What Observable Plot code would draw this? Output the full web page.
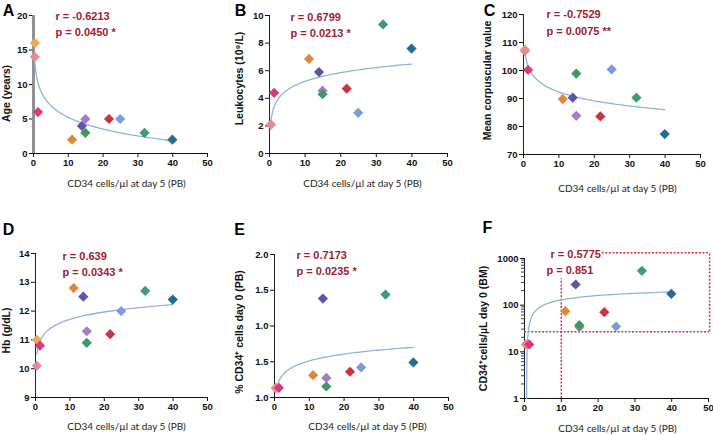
<!DOCTYPE html>
<html><head><meta charset="utf-8">
<script src="https://cdn.jsdelivr.net/npm/d3@7"></script>
<script src="https://cdn.jsdelivr.net/npm/@observablehq/plot@0.6"></script>
<style>
html,body{margin:0;padding:0;background:#fff}
#fig{position:relative;width:713px;height:435px;overflow:hidden;background:#fff}
#fig svg{position:absolute;overflow:visible}
</style></head>
<body><div id="fig"></div>
<script>
// ---- data ----
const cd34Day5 = [0.4, 0.4, 1.3, 11.1, 13.9, 14.9, 14.9, 21.7, 24.9, 31.9, 39.9];
const pointColors = ["#F2A65A", "#E58A96", "#D63C78", "#E0873A", "#5E55A8", "#A47CC8", "#3C9A5F", "#C8353A", "#7A9CDC", "#3E9C74", "#22708F"];
const ageYears = [16, 14, 6, 2, 4, 5, 3, 5, 5, 3, 2];
const leukocytes = [2.1, 2.1, 4.4, 6.85, 5.9, 4.55, 4.3, 4.7, 2.95, 9.35, 7.6];
const meanCorpuscular = [107.5, 107, 100.2, 89.8, 90.3, 83.8, 98.9, 83.6, 100.4, 90.3, 77.3];
const hemoglobin = [11.0, 10.1, 10.8, 12.8, 12.5, 11.3, 10.9, 11.2, 12.0, 12.7, 12.4];
const cd34Day0PB = [1.065, 1.065, 1.068, 1.156, 1.692, 1.137, 1.077, 1.18, 1.21, 1.72, 1.245];
const cd34Day0BM = [14.4, 14.4, 14.4, 74.4, 277, 34, 37.3, 70.8, 34.9, 544, 175];

const xTicks = [0, 10, 20, 30, 40, 50];
const ageTicks = [0, 5, 10, 15, 20];
const leukTicks = [0, 2, 4, 6, 8, 10];
const mcvTicks = [70, 80, 90, 100, 110, 120];
const hbTicks = [9, 10, 11, 12, 13, 14];
const eTickValues = [1, 1.25, 1.5, 1.75, 2];
const eTickLabels = ["1.0", "1.5", "1.0", "1.5", "2.0"];
const fMajorTicks = [1, 10, 100, 1000];
const fMinorTicks = [2, 3, 4, 5, 6, 7, 8, 9, 20, 30, 40, 50, 60, 70, 80, 90, 200, 300, 400, 500, 600, 700, 800, 900];

const panelLetters = ["A", "B", "C", "D", "E", "F"];
const rLabels = ["r = -0.6213", "r = 0.6799", "r = -0.7529", "r = 0.639", "r = 0.7173", "r = 0.5775"];
const pLabels = ["p = 0.0450 *", "p = 0.0213 *", "p = 0.0075 **", "p = 0.0343 *", "p = 0.0235 *", "p = 0.851"];
const yTitles = ["Age (years)", "Leukocytes (10\u2079/L)", "Mean corpuscular value", "Hb (g/dL)", "% CD34\u207A cells day 0 (PB)", "CD34\u207Acells/\u00B5L day 0 (BM)"];
const xTitle = "CD34 cells/\u00B5l at day 5 (PB)";

// threshold box of panel F
const fThresholdX = 10, fThresholdY = 27, fThresholdTop = 366;
const fBoxRight = 50.3, fBoxTop = 1320, fBoxTopStart = 21.1;

// ---- layout / style ----
const statColor = "#A3202E";
const fitColor = "#8DB3E2";
const boxColor = "#D8303C";
const tickFont = "'Liberation Sans', Arial, sans-serif";

function logFit(xs, ys) {
  const L = xs.map(Math.log);
  const lm = d3.mean(L), ym = d3.mean(ys);
  let sxy = 0, sxx = 0;
  L.forEach((l, i) => { sxy += (l - lm) * (ys[i] - ym); sxx += (l - lm) ** 2; });
  const b = sxy / sxx;
  return {a: ym - b * lm, b};
}

const fig = document.getElementById("fig");
const intFmt = d => String(d);

const panels = [
  {values: ageYears, y: {domain: [0, 20], ticks: ageTicks, tickFormat: intFmt}, box: [0, 0, 237, 210], m: [15, 30, 57, 33],
   yAxis: {stroke: "#8a8a8a", width: 2.8}, rPos: [22, 1], pPos: [22, 17], yt: [-27, 9], xt: [6, 30], letter: [-25, -5]},
  {values: leukocytes, y: {domain: [0, 10], ticks: leukTicks, tickFormat: intFmt}, box: [235, 0, 237, 210], m: [15, 25, 57, 34],
   yAxis: {stroke: "#222", width: 1}, rPos: [21, 2], pPos: [21, 18], yt: [-30, -6], xt: [4, 30], letter: [-29, -5]},
  {values: meanCorpuscular, y: {domain: [70, 120], ticks: mcvTicks, tickFormat: intFmt}, box: [470, 0, 243, 210], m: [14, 13, 56, 53],
   yAxis: {stroke: "#222", width: 1}, rPos: [23, 0], pPos: [23, 17], yt: [-35.5, -4], xt: [5.5, 34], letter: [-34, -4]},
  {values: hemoglobin, y: {domain: [9, 14], ticks: hbTicks, tickFormat: intFmt}, box: [0, 210, 237, 225], m: [43, 30, 38, 35],
   yAxis: {stroke: "#222", width: 1}, rPos: [27, 3], pPos: [27, 19], yt: [-29, 5], xt: [5, 29], letter: [-27, -24]},
  {values: cd34Day0PB, y: {domain: [1, 2], ticks: eTickValues, tickFormat: (d, i) => eTickLabels[i]}, box: [235, 210, 237, 225], m: [44, 24, 38, 39],
   yAxis: {stroke: "#222", width: 1}, rPos: [22, 1], pPos: [22, 17], yt: [-35, 6], xt: [6, 29], letter: [-35, -25]},
  {values: cd34Day0BM, y: {type: "log", domain: [1, 1000], ticks: fMajorTicks, tickFormat: intFmt}, box: [470, 210, 243, 225], m: [48, 5, 37, 54],
   yAxis: {stroke: "#222", width: 1}, rPos: [26, -4], pPos: [22, 12], yt: [-41, 0], xt: [1, 30], letter: [-37, -31], isLog: true}
];

panels.forEach((cfg, k) => {
  const [left, top, width, height] = cfg.box;
  const [mt, mr, mb, ml] = cfg.m;
  const data = cd34Day5.map((x, i) => ({x, y: cfg.values[i], c: pointColors[i]}));
  // logarithmic trend line fitted to the panel's points
  const fit = logFit(cd34Day5, cfg.values);
  let x0 = d3.min(cd34Day5);
  const x1 = d3.max(cd34Day5);
  if (cfg.isLog) x0 = Math.max(x0, Math.exp((1 - fit.a) / fit.b) * 1.0001);
  const curve = d3.range(200).map(i => {
    const x = x0 * Math.pow(x1 / x0, i / 199);
    return {x, y: fit.a + fit.b * Math.log(x)};
  });
  const yBase = cfg.y.domain[0];
  const marks = [
    Plot.ruleY([yBase], {stroke: "#111", strokeWidth: 1.2}),
    Plot.ruleX([0], {stroke: cfg.yAxis.stroke, strokeWidth: cfg.yAxis.width})
  ];
  if (cfg.isLog) {
    const dash = {stroke: boxColor, strokeWidth: 1.5, strokeDasharray: "2,1.6"};
    marks.push(
      Plot.ruleX([fThresholdX], {y1: 1, y2: fThresholdTop, ...dash}),
      Plot.ruleY([fThresholdY], {x1: 0, x2: fBoxRight, ...dash}),
      Plot.ruleX([fBoxRight], {y1: fThresholdY, y2: fBoxTop, ...dash}),
      Plot.ruleY([fBoxTop], {x1: fBoxTopStart, x2: fBoxRight, ...dash})
    );
  }
  const mid = {textAnchor: "middle", lineAnchor: "middle"};
  marks.push(
    Plot.line(curve, {x: "x", y: "y", stroke: fitColor, strokeWidth: 1.3}),
    Plot.dot(data, {x: "x", y: "y", fill: "c", symbol: "diamond2", r: 4.6}),
    Plot.text([rLabels[k]], {frameAnchor: "top-left", dx: cfg.rPos[0], dy: cfg.rPos[1], textAnchor: "start", lineAnchor: "middle", fill: statColor, fontWeight: "bold", fontSize: 11}),
    Plot.text([pLabels[k]], {frameAnchor: "top-left", dx: cfg.pPos[0], dy: cfg.pPos[1], textAnchor: "start", lineAnchor: "middle", fill: statColor, fontWeight: "bold", fontSize: 11}),
    Plot.text([yTitles[k]], {frameAnchor: "left", dx: cfg.yt[0], dy: cfg.yt[1], rotate: -90, ...mid, fontWeight: "bold", fontSize: 10.5, fill: "#111"}),
    Plot.text([xTitle], {frameAnchor: "bottom", dx: cfg.xt[0], dy: cfg.xt[1], ...mid, fontWeight: "normal", fontSize: 10, fill: "#222", fontFamily: "Lato, 'Open Sans', sans-serif"}),
    Plot.text([panelLetters[k]], {frameAnchor: "top-left", dx: cfg.letter[0], dy: cfg.letter[1], ...mid, fontWeight: "bold", fontSize: 16, fill: "#000"})
  );
  const svg = Plot.plot({
    width, height,
    marginTop: mt, marginRight: mr, marginBottom: mb, marginLeft: ml,
    x: {domain: [0, 50], ticks: xTicks, tickFormat: intFmt, tickSize: 4, tickPadding: 2, label: null},
    y: {...cfg.y, tickSize: 4, tickPadding: 2, label: null},
    color: {type: "identity"},
    style: {fontFamily: tickFont, fontSize: "9.5px", fontWeight: "bold", color: "#111", background: "transparent", overflow: "visible"},
    marks
  });
  if (cfg.isLog) {
    // minor ticks of the log axis, placed with the plot's own y scale
    const ys = svg.scale("y");
    const g = d3.select(svg).append("g").attr("stroke", "#111").attr("stroke-width", 0.8);
    fMinorTicks.forEach(v => {
      const py = ys.apply(v);
      g.append("line").attr("x1", ml - 3).attr("x2", ml).attr("y1", py).attr("y2", py);
    });
  }
  svg.style.left = left + "px";
  svg.style.top = top + "px";
  fig.appendChild(svg);
});
</script>
</body></html>
